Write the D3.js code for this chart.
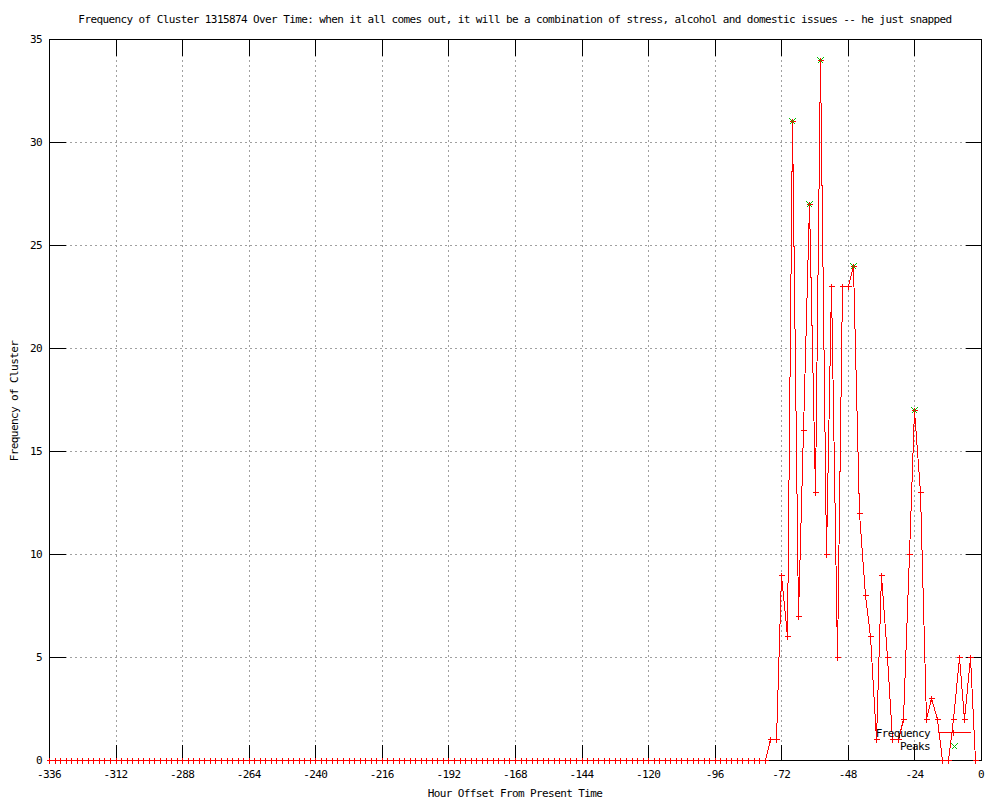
<!doctype html>
<html>
  <head>
    <meta charset="utf-8">
    <title>Frequency of Cluster</title>
    <script src="https://d3js.org/d3.v7.min.js"></script>
    <style type="text/css">
      body { margin: 0; background-color: #ffffff; }
      text { font-family: "DejaVu Sans Mono", "Liberation Mono", monospace; font-size: 11px; letter-spacing: -0.6px; fill: #000; }
    </style>
  </head>
  <body>
    <script>
      // hourly counts, one sample every 2 hours from -336 to -2
      var hours = d3.range(-336, 0, 2);
      var counts = [
        0,0,0,0,0,0,0,0,0,0, 0,0,0,0,0,0,0,0,0,0,
        0,0,0,0,0,0,0,0,0,0, 0,0,0,0,0,0,0,0,0,0,
        0,0,0,0,0,0,0,0,0,0, 0,0,0,0,0,0,0,0,0,0,
        0,0,0,0,0,0,0,0,0,0, 0,0,0,0,0,0,0,0,0,0,
        0,0,0,0,0,0,0,0,0,0, 0,0,0,0,0,0,0,0,0,0,
        0,0,0,0,0,0,0,0,0,0, 0,0,0,0,0,0,0,0,0,0,
        0,0,0,0,0,0,0,0,0,0,
        1,1,9,6,31,7,16,27,13,34,
        10,23,5,23,23,24,12,8,6,1,
        9,5,1,1,2,10,17,13,2,3,
        2,0,0,2,5,2,5,0
      ];
      var peakHours = [-68, -62, -58, -46, -24];
      var peakValues = [31, 27, 34, 24, 17];
      var xTicks = [-336, -312, -288, -264, -240, -216, -192, -168, -144, -120, -96, -72, -48, -24, 0];
      var yTicks = [0, 5, 10, 15, 20, 25, 30, 35];

      var w = 1000, h = 800;
      var pLeft = 49, pRight = 981, pTop = 39, pBottom = 760;

      var x = d3.scaleLinear().domain([-336, 0]).range([pLeft, pRight]);
      var y = d3.scaleLinear().domain([0, 35]).range([pBottom, pTop]);

      var svg = d3.select("body").append("svg")
        .attr("width", w).attr("height", h);

      var g = svg.append("g").attr("transform", "translate(0.5,0.5)")
        .attr("shape-rendering", "crispEdges");

      // grid
      g.selectAll("line.gx").data(xTicks.slice(1, -1)).enter().append("line")
        .attr("x1", function(d) { return Math.round(x(d)); })
        .attr("x2", function(d) { return Math.round(x(d)); })
        .attr("y1", pTop).attr("y2", pBottom)
        .style("stroke", "#a0a0a0").style("stroke-dasharray", "2,3");
      g.selectAll("line.gy").data(yTicks.slice(1, -1)).enter().append("line")
        .attr("y1", function(d) { return Math.round(y(d)); })
        .attr("y2", function(d) { return Math.round(y(d)); })
        .attr("x1", pLeft).attr("x2", pRight)
        .style("stroke", "#a0a0a0").style("stroke-dasharray", "2,3");

      // ticks, all four sides
      var tl = 16;
      xTicks.forEach(function(d) {
        var px = Math.round(x(d));
        g.append("line").attr("x1", px).attr("x2", px).attr("y1", pBottom).attr("y2", pBottom - tl).style("stroke", "#000");
        g.append("line").attr("x1", px).attr("x2", px).attr("y1", pTop).attr("y2", pTop + tl).style("stroke", "#000");
      });
      yTicks.forEach(function(d) {
        var py = Math.round(y(d));
        g.append("line").attr("y1", py).attr("y2", py).attr("x1", pLeft).attr("x2", pLeft + tl).style("stroke", "#000");
        g.append("line").attr("y1", py).attr("y2", py).attr("x1", pRight).attr("x2", pRight - tl).style("stroke", "#000");
      });

      // frequency line
      var pts = hours.map(function(d, i) { return [d, counts[i]]; });
      var line = d3.line()
        .x(function(d) { return Math.round(x(d[0])); })
        .y(function(d) { return Math.round(y(d[1])); });
      g.append("path").datum(pts).attr("d", line)
        .style("fill", "none").style("stroke", "#ff0000");

      function plus(sel, cx, cy, col) {
        sel.append("path")
          .attr("d", "M" + (cx - 3) + "," + cy + "H" + (cx + 3) + "M" + cx + "," + (cy - 3) + "V" + (cy + 3))
          .style("stroke", col).style("fill", "none");
      }
      function cross(sel, cx, cy, col) {
        sel.append("path")
          .attr("d", "M" + (cx - 3) + "," + (cy - 3) + "L" + (cx + 3) + "," + (cy + 3) + "M" + (cx - 3) + "," + (cy + 3) + "L" + (cx + 3) + "," + (cy - 3))
          .style("stroke", col).style("fill", "none");
      }

      g.append("rect")
        .attr("x", pLeft).attr("y", pTop)
        .attr("width", pRight - pLeft).attr("height", pBottom - pTop)
        .style("fill", "none").style("stroke", "#000");

      pts.forEach(function(d) {
        plus(g, Math.round(x(d[0])), Math.round(y(d[1])), "#ff0000");
      });

      // peaks
      peakHours.forEach(function(d, i) {
        cross(g, Math.round(x(d)), Math.round(y(peakValues[i])), "#00c000");
      });

      // legend
      svg.append("text").attr("x", 930).attr("y", 737).attr("text-anchor", "end").text("Frequency");
      svg.append("text").attr("x", 930).attr("y", 750).attr("text-anchor", "end").text("Peaks");
      g.append("line").attr("x1", 937).attr("x2", 970).attr("y1", 732).attr("y2", 732).style("stroke", "#ff0000");
      plus(g, 953, 732, "#ff0000");
      cross(g, 954, 746, "#00c000");

      // tick labels
      svg.selectAll("text.xl").data(xTicks).enter().append("text")
        .attr("x", function(d) { return x(d); })
        .attr("y", 778)
        .attr("text-anchor", "middle")
        .text(function(d) { return d; });
      svg.selectAll("text.yl").data(yTicks).enter().append("text")
        .attr("x", 42)
        .attr("y", function(d) { return y(d) + 4; })
        .attr("text-anchor", "end")
        .text(function(d) { return d; });

      // titles
      svg.append("text").attr("x", 515).attr("y", 23).attr("text-anchor", "middle")
        .text("Frequency of Cluster 1315874 Over Time: when it all comes out, it will be a combination of stress, alcohol and domestic issues -- he just snapped");
      svg.append("text").attr("x", 515).attr("y", 797).attr("text-anchor", "middle")
        .text("Hour Offset From Present Time");
      svg.append("text").attr("transform", "translate(18,401) rotate(-90)").attr("text-anchor", "middle")
        .text("Frequency of Cluster");
    </script>
  </body>
</html>
